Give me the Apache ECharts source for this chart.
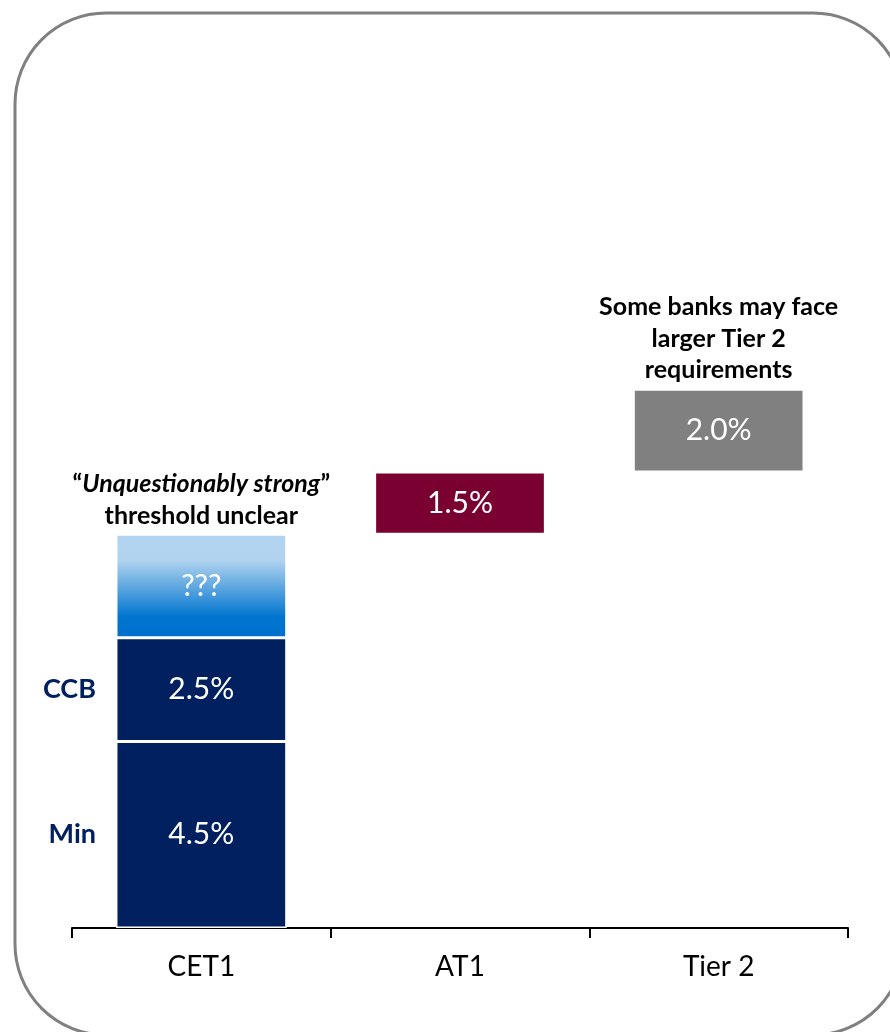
<!DOCTYPE html>
<html>
<head>
<meta charset="utf-8">
<title>Capital stack</title>
<script src="https://cdn.jsdelivr.net/npm/echarts@6/dist/echarts.min.js"></script>
<style>
  html, body { margin: 0; padding: 0; background: #ffffff; }
  #chart { width: 890px; height: 1032px; }
</style>
</head>
<body>
<div id="chart"></div>
<script>
// Capital requirement layers, in % of risk-weighted assets
const categories = ['CET1', 'AT1', 'Tier 2'];
const minReq   = [4.5, '-', '-'];
const ccb      = [2.5, '-', '-'];
const buffer   = [2.5, '-', '-'];   // unknown "unquestionably strong" add-on
const at1      = ['-', 1.5, '-'];
const tier2    = ['-', '-', 2.0];
const sideNames = { min: 'Min', ccb: 'CCB' };
const bufferText = '???';
const cetNote = ['“', 'Unquestionably strong', '”', 'threshold unclear'];
const tier2Note = ['Some banks may face', 'larger Tier 2', 'requirements'];

const num = v => (v === '-' ? 0 : v);

// Floating bars start where the previous column ends
const cetTop = num(minReq[0]) + num(ccb[0]) + num(buffer[0]);
const at1Top = cetTop + num(at1[1]);
const tier2Top = at1Top + num(tier2[2]);
const base = [0, cetTop, at1Top];

const FONT = 'Lato, "Open Sans", sans-serif';
const NAVY = '#002060';
const BAR_W = '66%';
const pct = p => Number(p.value).toFixed(1) + '%';

const valueLabel = {
  show: true,
  position: 'inside',
  color: '#ffffff',
  fontFamily: FONT,
  fontSize: 30,
  formatter: pct
};

const sideLabel = text => ({
  show: true, position: 'left', distance: 20,
  color: NAVY, fontFamily: FONT, fontWeight: 'bold', fontSize: 27,
  formatter: text
});

const bar = (name, stack, data, extra) => Object.assign({
  name, type: 'bar', stack, data,
  barWidth: BAR_W, barGap: '-100%'
}, extra);

const noteStyle = extra => Object.assign({
  fontFamily: FONT, fontWeight: 'bold', fontSize: 25, lineHeight: 31.5,
  color: '#000000', opacity: 1
}, extra);

const chart = echarts.init(document.getElementById('chart'), null, { renderer: 'canvas' });

chart.setOption({
  animation: false,
  backgroundColor: '#ffffff',
  grid: { left: 72, right: 42, top: 99, bottom: 104, containLabel: false },
  xAxis: {
    type: 'category',
    data: categories,
    boundaryGap: true,
    axisLine: { show: true, lineStyle: { color: '#000000', width: 2 } },
    axisTick: { show: true, alignWithLabel: false, length: 10, lineStyle: { color: '#000000', width: 2 } },
    axisLabel: { color: '#000000', fontFamily: FONT, fontSize: 28, margin: 25 },
    splitLine: { show: false }
  },
  yAxis: {
    type: 'value',
    min: 0,
    max: 20,
    show: false,
    splitLine: { show: false }
  },
  graphic: [{
    type: 'rect',
    silent: true,
    shape: { x: 15, y: 13, width: 889, height: 1022, r: 91 },
    style: { fill: 'none', stroke: '#808080', lineWidth: 3 }
  }],
  series: [
    bar('base', 'cap', base, {
      itemStyle: { color: 'transparent' },
      emphasis: { disabled: true }
    }),
    bar('Min', 'cap', minReq, {
      itemStyle: { color: NAVY, borderColor: '#ffffff', borderWidth: 1.5 },
      label: valueLabel
    }),
    bar('CCB', 'cap', ccb, {
      itemStyle: { color: NAVY, borderColor: '#ffffff', borderWidth: 1.5 },
      label: valueLabel
    }),
    bar('Buffer', 'cap', buffer, {
      itemStyle: {
        borderColor: '#ffffff',
        borderWidth: 1.5,
        color: {
          type: 'linear', x: 0, y: 0, x2: 0, y2: 1,
          colorStops: [
            { offset: 0, color: '#B3D4F0' },
            { offset: 0.25, color: '#B1D3EF' },
            { offset: 0.8, color: '#0075CF' },
            { offset: 1, color: '#0070CC' }
          ]
        }
      },
      label: Object.assign({}, valueLabel, { formatter: bufferText })
    }),
    bar('AT1', 'cap', at1, {
      itemStyle: { color: '#7A0032', borderColor: '#ffffff', borderWidth: 1.5 },
      label: valueLabel
    }),
    bar('Tier 2', 'cap', tier2, {
      itemStyle: { color: '#808080', borderColor: '#ffffff', borderWidth: 1.5 },
      label: valueLabel
    }),
    // Transparent twins of the CET1 layers carrying the side names
    bar('MinName', 'names', minReq, {
      itemStyle: { color: 'transparent' },
      emphasis: { disabled: true },
      label: sideLabel(sideNames.min)
    }),
    bar('CCBName', 'names', ccb, {
      itemStyle: { color: 'transparent' },
      emphasis: { disabled: true },
      label: sideLabel(sideNames.ccb)
    }),
    // Notes sitting on top of the CET1 and Tier 2 columns
    {
      name: 'notes',
      type: 'scatter',
      symbol: 'circle',
      symbolSize: 0,
      itemStyle: { color: '#000000' },
      emphasis: { disabled: true },
      label: Object.assign(noteStyle({
        show: true,
        position: 'top',
        distance: 3,
        align: 'center',
        formatter: p => p.data.note
      }), {
        rich: {
          q: noteStyle(),
          i: noteStyle({ fontStyle: 'italic' }),
          b: noteStyle()
        }
      }),
      data: [
        {
          value: [0, cetTop],
          note: '{q|' + cetNote[0] + '}{i|' + cetNote[1] + '}{q|' + cetNote[2] + '}\n{b|' + cetNote[3] + '}'
        },
        {
          value: [2, tier2Top],
          note: tier2Note.map(t => '{b|' + t + '}').join('\n')
        }
      ]
    }
  ]
});
</script>
</body>
</html>
